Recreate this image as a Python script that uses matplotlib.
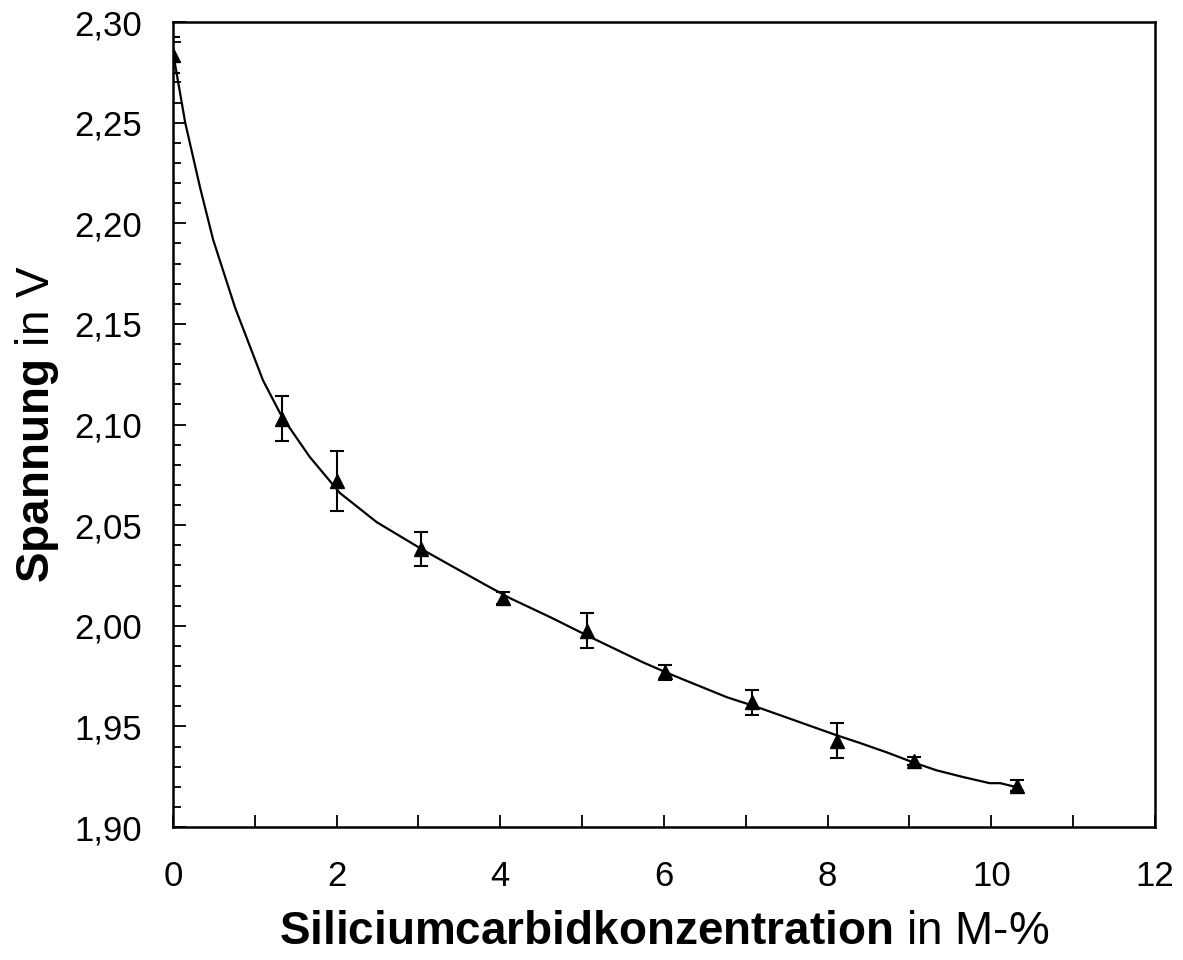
import matplotlib.pyplot as plt
from matplotlib.ticker import MultipleLocator, FuncFormatter

plt.rcParams['font.family'] = 'Liberation Sans'
plt.rcParams['mathtext.fontset'] = 'custom'
plt.rcParams['mathtext.rm'] = 'Liberation Sans'
plt.rcParams['mathtext.bf'] = 'Liberation Sans:bold'

# Messpunkte
konz = [0, 1.33, 2.0, 3.03, 4.03, 5.06, 6.01, 7.07, 8.11, 9.06, 10.31]
spannung = [2.2836, 2.103, 2.072, 2.038, 2.014, 1.9976, 1.977, 1.962, 1.943, 1.933, 1.9205]
fehler = [0.009, 0.0112, 0.0149, 0.0085, 0.003, 0.0087, 0.0037, 0.0062, 0.0087, 0.002, 0.0028]

# geglaettete Kurve
kurve_x = [0, 0.15, 0.33, 0.49, 0.76, 1.10, 1.33, 1.67, 2.04, 2.49, 3.06, 3.79, 4.12, 4.61,
           5.13, 5.74, 6.11, 6.77, 7.14, 7.66, 8.11, 8.40, 8.73, 9.04, 9.33, 9.66, 9.98, 10.11, 10.31]
kurve_y = [2.285, 2.250, 2.218, 2.192, 2.158, 2.122, 2.104, 2.084, 2.066, 2.0515, 2.0376, 2.021,
           2.0137, 2.0043, 1.9938, 1.9819, 1.9754, 1.9645, 1.9596, 1.9521, 1.9456, 1.9417, 1.937,
           1.9322, 1.9282, 1.9248, 1.9218, 1.9218, 1.9198]

fig = plt.figure(figsize=(11.83, 9.6), dpi=100)
ax = fig.add_axes([0.1462, 0.1385, 0.8301, 0.8385])

ax.plot(kurve_x, kurve_y, color='black', lw=1.6)
ax.errorbar(konz, spannung, yerr=fehler, fmt='^', color='black', ms=9.5,
            ecolor='black', elinewidth=1.5, capsize=5, capthick=1.5)

ax.set_xlim(0, 12)
ax.set_ylim(1.90, 2.30)
ax.xaxis.set_major_locator(MultipleLocator(2))
ax.xaxis.set_minor_locator(MultipleLocator(1))
ax.yaxis.set_major_locator(MultipleLocator(0.05))
ax.yaxis.set_minor_locator(MultipleLocator(0.01))
ax.yaxis.set_major_formatter(FuncFormatter(lambda v, p: f"{v:.2f}".replace('.', ',')))
ax.xaxis.set_major_formatter(FuncFormatter(lambda v, p: f"{v:.0f}"))

ax.tick_params(which='both', direction='in', top=False, right=False, width=1.3, labelsize=25)
ax.tick_params(axis='x', which='both', length=9, pad=24)
ax.tick_params(axis='y', which='major', length=9, pad=22)
ax.tick_params(axis='y', which='minor', length=6)
for s in ax.spines.values():
    s.set_linewidth(1.8)

ax.set_xlabel(r"$\bf{Siliciumcarbidkonzentration}$ in M-%", fontsize=33, labelpad=12)
ax.set_ylabel(r"$\bf{Spannung}$ in V", fontsize=33, labelpad=10)

fig.savefig('out.png', dpi=100)
